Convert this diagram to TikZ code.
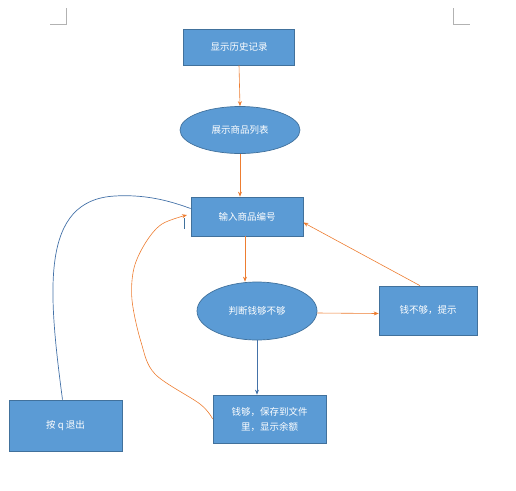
\documentclass[tikz,border=0pt]{standalone}
\usepackage{fontspec}
\newfontfamily\cjk{Noto Sans CJK SC}
\usetikzlibrary{shapes.geometric,arrows.meta}
\definecolor{boxfill}{HTML}{5B9BD5}
\definecolor{boxline}{HTML}{41719C}
\definecolor{orng}{HTML}{ED7D31}
\definecolor{bluel}{HTML}{4472A8}
\tikzset{
  base/.style={fill=boxfill,draw=boxline,line width=0.7pt,text=white,font=\cjk\fontsize{9.5}{15}\selectfont,inner sep=1pt,align=center},
  rbox/.style={base,rectangle},
  ebox/.style={base,ellipse},
  oarr/.style={draw=orng,line width=0.6pt,-{Stealth[length=5pt,width=4pt]}},
  barr/.style={draw=bluel,line width=0.6pt,-{Stealth[length=5pt,width=4pt]}},
  bline/.style={draw=bluel,line width=0.7pt},
  cmark/.style={draw=gray!60,line width=0.5pt}
}
\begin{document}
\begin{tikzpicture}[x=1pt,y=-1pt]
\useasboundingbox (0,0) rectangle (516,490);
% corner marks
\coordinate (tl1) at (66,8); \coordinate (tl2) at (66,24); \coordinate (tl3) at (50,24);
\coordinate (tr1) at (453,8); \coordinate (tr2) at (453,24); \coordinate (tr3) at (470,24);
\draw[cmark] (tl1) -- (tl2) -- (tl3);
\draw[cmark] (tr1) -- (tr2) -- (tr3);
% nodes
\node[rbox,minimum width=111pt,minimum height=36pt] (b1) at (239,47) {显示历史记录};
\node[ebox,minimum width=120pt,minimum height=47pt] (e1) at (240,130) {展示商品列表};
\node[rbox,minimum width=112pt,minimum height=39pt] (in) at (247,216.5) {输入商品编号};
\node[ebox,minimum width=120pt,minimum height=58pt] (e2) at (257,311) {判断钱够不够};
\node[rbox,minimum width=98pt,minimum height=49pt] (nb) at (428,310.5) {钱不够，提示};
\node[rbox,minimum width=113pt,minimum height=48pt] (ok) at (269.5,419) {钱够，保存到文件\\里，显示余额};
\node[rbox,minimum width=113pt,minimum height=51pt] (qt) at (65.5,425.5) {按 q 退出};
% connectors
\draw[oarr] (b1.south) -- (e1.north);
\draw[oarr] (e1.south) -- (e1.south |- in.north);
\draw[oarr] ([xshift=-2pt]in.south) -- ([xshift=-2pt]in.south |- e2.north);
\draw[oarr] ([yshift=-2pt]e2.east) -- ([yshift=-3pt]nb.west);
\draw[oarr] ([xshift=-8pt]nb.north) -- ([yshift=-6pt]in.east);
\draw[barr] (e2.south) -- (e2.south |- ok.north);
\draw[bline] ([xshift=-3pt]qt.north) .. controls (48,290) and (40,200) .. (115,196) .. controls (150,194) and (175,203) .. ([yshift=8pt]in.west);
\coordinate (tk1) at (184,218); \coordinate (tk2) at (184,229);
\draw[draw=boxline,line width=0.8pt] (tk1) -- (tk2);
\draw[oarr] plot[smooth,tension=0.55] coordinates {(ok.west) (200,404) (155,374) (141,342) (132,300) (134,268) (146,242) (162,224) (187,215)};
\end{tikzpicture}
\end{document}
